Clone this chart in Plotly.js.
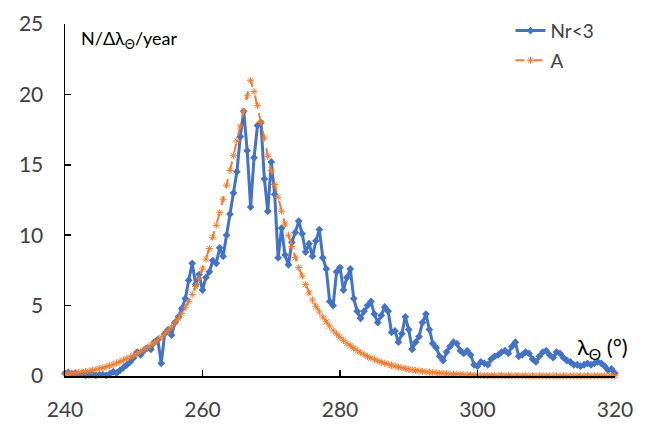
<!DOCTYPE html>
<html>
<head>
<meta charset="utf-8">
<script src="https://cdn.plot.ly/plotly-3.0.1.min.js"></script>
<style>html,body{margin:0;padding:0;background:#fff;}#chart{width:646px;height:426px;}</style>
</head>
<body>
<div id="chart"></div>
<script>
// Solar longitude grid (degrees), 0.5 deg step from 240 to 320
const lambdaStart = 240;
const lambdaStep = 0.5;

// Series "Nr<3" (observed rate per degree per year)
const nrValues = [
  0.2,0.25,0.15,0.2,0.1,0.15,0.05,0.1,0.15,0.05,0.1,0.1,0.05,0.15,0.3,0.2,0.4,0.6,0.8,1.0,
  1.3,1.7,1.5,1.8,2.0,1.9,2.4,2.6,0.9,3.0,3.3,2.9,3.8,4.2,4.8,5.5,6.8,8.0,6.5,7.2,
  6.1,7.0,7.4,8.2,8.0,9.1,8.5,10.0,11.5,13.0,14.5,17.0,18.8,16.0,12.0,15.5,17.8,18.0,14.0,11.7,
  15.2,12.9,8.4,10.5,8.6,7.9,9.5,10.2,11.0,10.1,8.8,9.4,8.5,9.6,10.4,8.4,7.6,5.3,5.0,7.4,
  7.7,6.1,7.0,7.6,5.5,4.6,4.1,4.6,5.0,5.3,4.4,3.8,4.3,4.9,4.6,3.1,3.2,2.4,3.0,4.2,
  3.3,1.9,2.4,2.8,3.8,4.4,3.3,2.3,2.0,1.4,1.1,1.7,2.1,2.4,2.3,1.8,1.6,1.8,1.5,0.8,
  0.7,1.0,0.9,0.8,1.2,1.4,1.5,1.7,1.8,1.6,2.1,2.4,1.4,1.5,1.7,1.6,1.2,1.0,1.4,1.7,
  1.8,1.5,1.3,1.7,1.6,1.3,1.1,1.0,0.8,0.8,0.7,0.8,0.9,0.8,0.9,1.0,0.9,0.7,0.4,0.5,0.2
];

// Series "A" (model curve)
const aValues = [
  0.15,0.17,0.19,0.22,0.25,0.28,0.32,0.36,0.41,0.46,0.52,0.58,0.65,0.73,0.82,0.92,1.02,1.13,1.24,1.36,
  1.48,1.61,1.74,1.88,2.03,2.19,2.36,2.55,2.76,2.98,3.22,3.48,3.78,4.1,4.45,4.85,5.3,5.8,6.35,6.95,
  7.6,8.3,9.05,9.85,10.7,11.6,12.55,13.55,14.6,15.65,16.7,17.75,18.8,19.9,21.0,20.2,19.2,18.0,16.9,15.6,
  14.6,13.6,12.7,11.7,10.8,10.0,9.2,8.4,7.7,7.1,6.5,5.9,5.4,4.95,4.55,4.2,3.85,3.55,3.25,3.0,
  2.75,2.53,2.33,2.14,1.97,1.81,1.66,1.52,1.4,1.28,1.18,1.08,0.99,0.91,0.83,0.76,0.7,0.64,0.58,0.53,
  0.48,0.44,0.4,0.36,0.33,0.3,0.27,0.24,0.22,0.2,0.18,0.16,0.14,0.13,0.12,0.1,0.09,0.08,0.07,0.06,
  0.05,0.05,0.04,0.04,0.04,0.03,0.03,0.03,0.03,0.02,0.02,0.02,0.02,0.02,0.01,0.01,0.01,0.01,0.01,0.01,
  0.01,0.01,0.01,0.01,0.01,0.01,0.01,0.01,0.01,0.01,0.01,0.01,0.01,0.01,0.01,0.01,0.01,0.01,0.01,0.01,0.01
];

const seriesNames = ["Nr<3", "A"];
const xTickVals = [240, 260, 280, 300, 320];
const yTickVals = [0, 5, 10, 15, 20, 25];

const lambdas = nrValues.map((_, i) => lambdaStart + i * lambdaStep);

const FONT = "Lato, 'Open Sans', sans-serif";
const TXT = "#404040";

const traces = [
  {
    x: lambdas, y: nrValues, name: seriesNames[0], type: "scatter", mode: "lines+markers",
    line: {color: "#4472C4", width: 3},
    marker: {symbol: "diamond", size: 6, color: "#4472C4"},
    cliponaxis: false, legendgroup: "g1"
  },
  {
    x: lambdas, y: aValues, name: seriesNames[1], type: "scatter", mode: "lines+markers",
    line: {color: "#ED7D31", width: 2, dash: "dash"},
    marker: {symbol: "asterisk-open", size: 6, color: "#ED7D31", line: {color: "#ED7D31", width: 1}},
    cliponaxis: false, legendgroup: "g2"
  }
];

const layout = {
  width: 646, height: 426,
  margin: {l: 65, r: 31, t: 21, b: 50},
  paper_bgcolor: "#fff", plot_bgcolor: "#fff",
  font: {family: FONT, color: TXT, size: 19},
  showlegend: true,
  legend: {
    x: 0.81, y: 1.035, xanchor: "left", yanchor: "top",
    font: {family: FONT, size: 19, color: TXT},
    bgcolor: "rgba(0,0,0,0)", traceorder: "grouped", tracegroupgap: 2
  },
  xaxis: {
    range: [240, 320], tickmode: "array", tickvals: xTickVals,
    showgrid: false, zeroline: false,
    showline: true, linecolor: "#000", linewidth: 1.5,
    ticks: "inside", ticklen: 6, tickwidth: 1.5, tickcolor: "#000",
    tickfont: {family: FONT, size: 21, color: TXT},
    ticklabelstandoff: 14
  },
  yaxis: {
    range: [0, 25], tickmode: "array", tickvals: yTickVals,
    showgrid: false, zeroline: false,
    showline: true, linecolor: "#000", linewidth: 1.5,
    ticks: "inside", ticklen: 6, tickwidth: 1.5, tickcolor: "#000",
    tickfont: {family: FONT, size: 21, color: TXT},
    ticklabelstandoff: 16
  },
  annotations: [
    {
      xref: "paper", yref: "paper", x: 0.025, y: 0.955, xanchor: "left", yanchor: "middle",
      text: "N/Δλ<sub>Θ</sub>/year", showarrow: false,
      font: {family: FONT, size: 18, color: "#000"}
    },
    {
      xref: "paper", yref: "paper", x: 0.928, y: 0.08, xanchor: "left", yanchor: "middle",
      text: "λ<sub>Θ</sub> (°)", showarrow: false,
      font: {family: FONT, size: 22, color: "#000"}
    }
  ]
};

Plotly.newPlot("chart", traces, layout, {staticPlot: true, displayModeBar: false});
</script>
</body>
</html>
